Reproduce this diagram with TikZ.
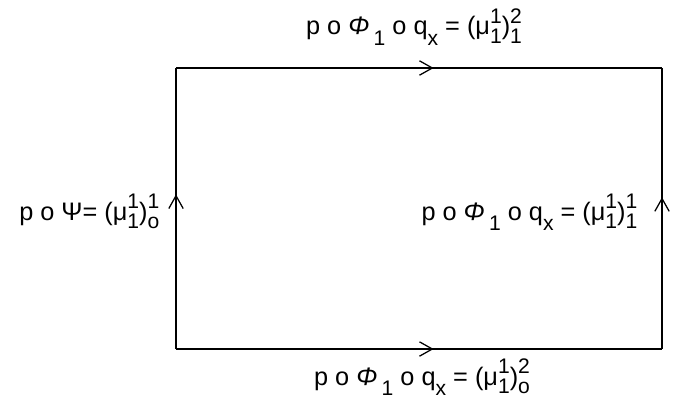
\documentclass[tikz,border=0pt]{standalone}
\usepackage{fontspec}
\setmainfont{Liberation Sans}
\usetikzlibrary{decorations.markings,arrows.meta}
\tikzset{midarrow/.style={postaction={decorate},decoration={markings,
  mark=at position #1 with {\arrow{Straight Barb[length=3.2mm,width=3.6mm,line width=0.9pt]}}}}}
\tikzset{edgelabel/.style={font=\fontsize{18}{21}\selectfont, inner sep=0pt}}
\newcommand{\lo}[1]{\raisebox{-0.4em}{\fontsize{15}{15}\selectfont #1}}
\newcommand{\hilo}[2]{{\fontsize{15}{15}\selectfont\ooalign{\raisebox{0.55em}{#1}\cr\raisebox{-0.4em}{#2}}}}
\newcommand{\mupow}[2]{(μ\hilo{1}{1})\hilo{#1}{#2}}
\newcommand{\pphi}{p o {\itshape Φ}\,\lo{1} o q\lo{x} = }

\begin{document}
\begin{tikzpicture}[x=0.025cm,y=-0.025cm,line width=0.9pt]
\useasboundingbox (0,0) rectangle (681,407);

\coordinate (bl) at (176,349);
\coordinate (br) at (662,349);
\coordinate (tl) at (176,68);
\coordinate (tr) at (662,68);

\draw[midarrow=0.53] (tl) -- (tr);
\draw[midarrow=0.53] (bl) -- (br);
\draw[midarrow=0.55] (bl) -- (tl);
\draw[midarrow=0.54] (br) -- (tr);

\node[edgelabel,anchor=base] (top) at (414,35) {\pphi\mupow{2}{1}};
\node[edgelabel,anchor=base] (bottom) at (422,385) {\pphi\mupow{2}{o}};
\node[edgelabel,anchor=base east] (left) at (160,220) {p o Ψ= \mupow{1}{o}};
\node[edgelabel,anchor=base east] (right) at (638,220) {\pphi\mupow{1}{1}};
\end{tikzpicture}
\end{document}
